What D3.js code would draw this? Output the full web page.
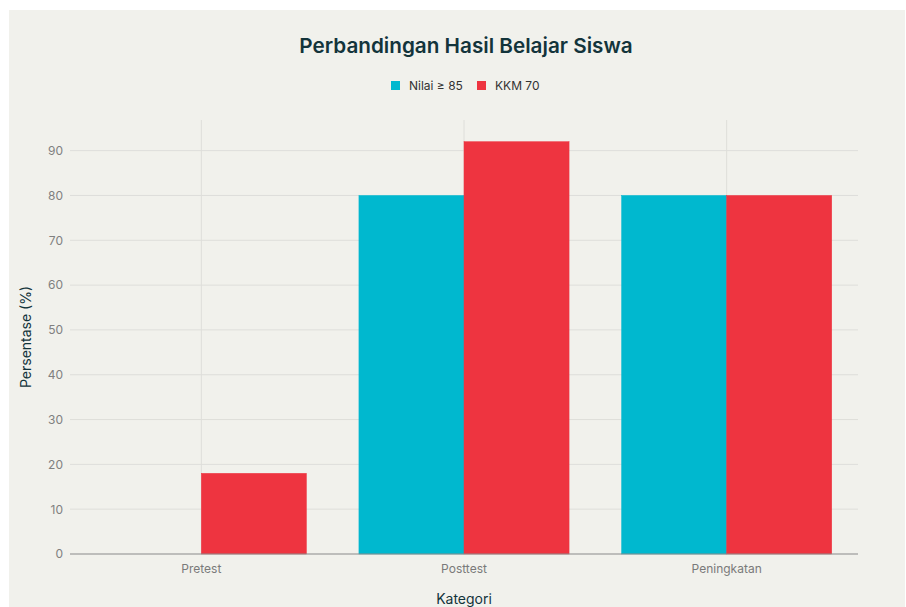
<!DOCTYPE html>
<html>
<head>
<meta charset="utf-8">
<script src="https://cdn.jsdelivr.net/npm/d3@7"></script>
<style>
  body { margin: 0; background: #fff; }
  svg { display: block; font-family: Inter, "Open Sans", sans-serif; }
</style>
</head>
<body>
<div id="chart"></div>
<script>
/* DATA */
const categories = ["Pretest", "Posttest", "Peningkatan"];
const seriesNames = ["Nilai ≥ 85", "KKM 70"];
const nilai85 = [0, 80, 80];
const kkm70 = [18, 92, 80];
const yTicks = [0, 10, 20, 30, 40, 50, 60, 70, 80, 90];

const colors = ["#00B8CF", "#EE3440"];

const width = 906, height = 607;
const margin = { top: 120, right: 48, bottom: 53, left: 70 };

const svg = d3.select("#chart").append("svg")
  .attr("width", width)
  .attr("height", height);

// paper background
svg.append("rect")
  .attr("x", 9).attr("y", 10)
  .attr("width", width - 10).attr("height", height - 10)
  .attr("fill", "#F1F1EC");

const xScale = d3.scaleBand()
  .domain(categories)
  .range([margin.left, width - margin.right])
  .paddingInner(0.2)
  .paddingOuter(0.1);

const xCat = d3.scaleBand()
  .domain(categories)
  .range([margin.left, width - margin.right]);

const xSub = d3.scaleBand()
  .domain(seriesNames)
  .range([0, xScale.bandwidth()]);

const yScale = d3.scaleLinear()
  .domain([0, 96.84])
  .range([height - margin.bottom, margin.top]);

// horizontal grid
svg.append("g")
  .selectAll("line")
  .data(yTicks.filter(d => d > 0))
  .join("line")
    .attr("x1", margin.left).attr("x2", width - margin.right)
    .attr("y1", d => yScale(d)).attr("y2", d => yScale(d))
    .attr("stroke", "#DEDEDA").attr("stroke-width", 1);

// vertical grid at category centres
svg.append("g")
  .selectAll("line")
  .data(categories)
  .join("line")
    .attr("x1", d => xCat(d) + xCat.bandwidth() / 2)
    .attr("x2", d => xCat(d) + xCat.bandwidth() / 2)
    .attr("y1", margin.top).attr("y2", height - margin.bottom)
    .attr("stroke", "#DEDEDA").attr("stroke-width", 1);

// bars
const rows = categories.map((c, i) => ({ cat: c, values: [nilai85[i], kkm70[i]] }));

svg.append("g")
  .selectAll("g")
  .data(rows)
  .join("g")
    .attr("transform", d => `translate(${xScale(d.cat)},0)`)
  .selectAll("rect")
  .data(d => d.values.map((v, j) => ({ key: seriesNames[j], value: v, j })))
  .join("rect")
    .attr("x", d => xSub(d.key))
    .attr("width", xSub.bandwidth())
    .attr("y", d => yScale(d.value))
    .attr("height", d => yScale(0) - yScale(d.value))
    .attr("fill", d => colors[d.j])
    .attr("stroke", d => colors[d.j])
    .attr("stroke-width", 0.5);

// zero line
svg.append("line")
  .attr("x1", margin.left).attr("x2", width - margin.right)
  .attr("y1", yScale(0)).attr("y2", yScale(0))
  .attr("stroke", "#8A8A8A").attr("stroke-width", 1.2);

// y axis labels
const yAxis = d3.axisLeft(yScale).tickValues(yTicks).tickSize(0).tickPadding(7);
svg.append("g")
  .attr("transform", `translate(${margin.left},0)`)
  .call(yAxis)
  .call(g => g.select(".domain").remove())
  .call(g => g.selectAll("text")
    .attr("fill", "#808080")
    .style("font-size", "12px")
    .style("font-family", "Inter, sans-serif"));

// x axis labels
const xAxis = d3.axisBottom(xCat).tickSize(0).tickPadding(10);
svg.append("g")
  .attr("transform", `translate(0,${height - margin.bottom})`)
  .call(xAxis)
  .call(g => g.select(".domain").remove())
  .call(g => g.selectAll("text")
    .attr("fill", "#7A7A7A")
    .style("font-size", "12px")
    .style("font-family", "Inter, sans-serif"));

// title
svg.append("text")
  .attr("x", 466).attr("y", 53)
  .attr("text-anchor", "middle")
  .attr("fill", "#13343B")
  .style("font-size", "20.7px")
  .style("font-weight", 600)
  .text("Perbandingan Hasil Belajar Siswa");

// legend
const legend = svg.append("g").attr("transform", "translate(391,86)");
const legendX = [0, 86];
seriesNames.forEach((name, i) => {
  const g = legend.append("g").attr("transform", `translate(${legendX[i]},0)`);
  g.append("rect")
    .attr("x", 0).attr("y", -5)
    .attr("width", 9).attr("height", 9)
    .attr("fill", colors[i]);
  g.append("text")
    .attr("x", 18).attr("y", 4)
    .attr("fill", "#333")
    .style("font-size", "12px")
    .text(name);
});

// axis titles
svg.append("text")
  .attr("x", 464).attr("y", 604)
  .attr("text-anchor", "middle")
  .attr("fill", "#13343B")
  .style("font-size", "14px")
  .text("Kategori");

svg.append("text")
  .attr("transform", `translate(31,${yScale(48.42)}) rotate(-90)`)
  .attr("text-anchor", "middle")
  .attr("fill", "#13343B")
  .style("font-size", "14px")
  .text("Persentase (%)");
</script>
</body>
</html>
